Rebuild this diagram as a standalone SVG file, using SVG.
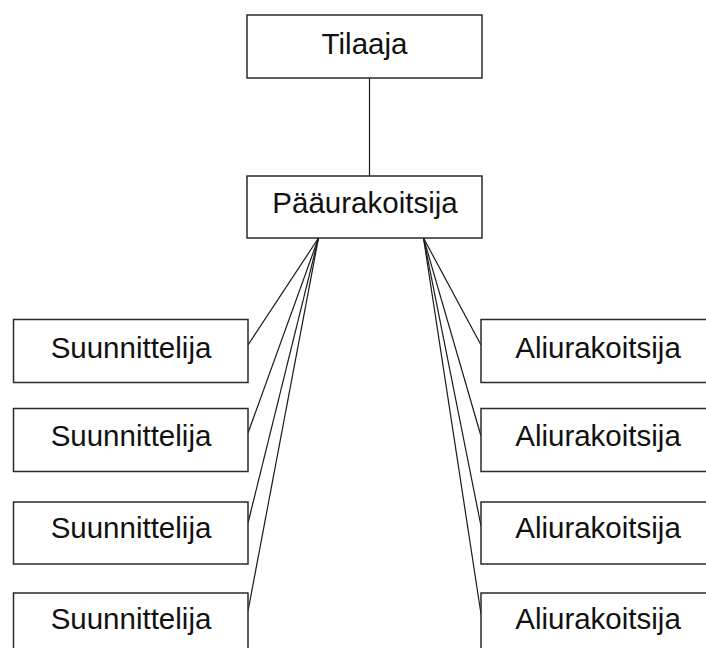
<svg xmlns="http://www.w3.org/2000/svg" width="706" height="648" viewBox="0 0 706 648">
<style>
.box{fill:#fff;stroke:#2a2a2a;stroke-width:1.5}
.lbl{font-family:"Liberation Sans",Arial,sans-serif;font-size:29.5px;fill:#111;text-anchor:middle}
.con{stroke:#1a1a1a;stroke-width:1.2;fill:none}
</style>
<rect width="706" height="648" fill="#fff"/>
<g id="connectors">
<line class="con" x1="369.5" y1="78" x2="369.5" y2="176"/>
<line class="con" x1="318.5" y1="238" x2="248" y2="345"/>
<line class="con" x1="318.5" y1="238" x2="248" y2="433"/>
<line class="con" x1="318.5" y1="238" x2="248" y2="523"/>
<line class="con" x1="318.5" y1="238" x2="248" y2="611"/>
<line class="con" x1="423.5" y1="238" x2="481" y2="345"/>
<line class="con" x1="423.5" y1="238" x2="481" y2="436"/>
<line class="con" x1="423.5" y1="238" x2="481" y2="526"/>
<line class="con" x1="423.5" y1="238" x2="481" y2="614"/>
</g>
<g id="tilaaja"><rect class="box" x="247" y="15" width="235" height="63"/><text class="lbl" x="364.5" y="54">Tilaaja</text></g>
<g id="paaurakoitsija"><rect class="box" x="247" y="176" width="235" height="62"/><text class="lbl" x="365" y="213">Pääurakoitsija</text></g>
<g id="suunnittelija1"><rect class="box" x="13.5" y="319.5" width="234.5" height="63"/><text class="lbl" x="131" y="357.5">Suunnittelija</text></g>
<g id="suunnittelija2"><rect class="box" x="13.5" y="408.5" width="234.5" height="63"/><text class="lbl" x="131" y="445.5">Suunnittelija</text></g>
<g id="suunnittelija3"><rect class="box" x="13.5" y="502" width="234.5" height="62"/><text class="lbl" x="131" y="538">Suunnittelija</text></g>
<g id="suunnittelija4"><rect class="box" x="13.5" y="593" width="234.5" height="63"/><text class="lbl" x="131" y="628.5">Suunnittelija</text></g>
<g id="aliurakoitsija1"><rect class="box" x="481" y="319.5" width="235" height="63"/><text class="lbl" x="598" y="357.5">Aliurakoitsija</text></g>
<g id="aliurakoitsija2"><rect class="box" x="481" y="408.5" width="235" height="63"/><text class="lbl" x="598" y="445.5">Aliurakoitsija</text></g>
<g id="aliurakoitsija3"><rect class="box" x="481" y="502" width="235" height="62"/><text class="lbl" x="598" y="538">Aliurakoitsija</text></g>
<g id="aliurakoitsija4"><rect class="box" x="481" y="593" width="235" height="63"/><text class="lbl" x="598" y="628.5">Aliurakoitsija</text></g>
</svg>
